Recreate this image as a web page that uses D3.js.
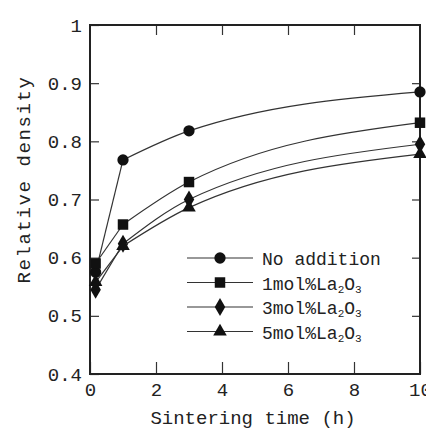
<!DOCTYPE html>
<html>
<head>
<meta charset="utf-8">
<script src="https://cdn.jsdelivr.net/npm/d3@7"></script>
<style>
  body { margin: 0; background: #fff; }
  text { font-family: "Liberation Mono", "DejaVu Sans Mono", monospace; fill: #222; }
</style>
</head>
<body>
<div id="chart"></div>
<script>
// Sintering time (h)
var times = [0.17, 1, 3, 10];
// relative density for each series
var noAddition = [0.575, 0.768, 0.818, 0.885];
var la1 = [0.59, 0.657, 0.73, 0.832];
var la3 = [0.545, 0.624, 0.70, 0.795];
var la5 = [0.558, 0.62, 0.686, 0.778];
var seriesNames = ["No addition", "1mol%La2O3", "3mol%La2O3", "5mol%La2O3"];
var markerTypes = ["circle", "square", "diamond", "triangle"];
var xTicks = [0, 2, 4, 6, 8, 10];
var yTicks = [0.4, 0.5, 0.6, 0.7, 0.8, 0.9, 1];

var margin = {top: 25, right: 6, bottom: 58, left: 90},
    width = 426 - margin.left - margin.right,
    height = 432 - margin.top - margin.bottom;

var svg = d3.select("#chart").append("svg")
    .attr("width", 426)
    .attr("height", 432)
  .append("g")
    .attr("transform", "translate(" + margin.left + "," + margin.top + ")");

var x = d3.scaleLinear().domain([0, 10]).range([0, width]);
var y = d3.scaleLinear().domain([0.4, 1]).range([height, 0]);

// axes, ticks pointing inward
svg.append("g")
    .attr("transform", "translate(0," + height + ")")
    .call(d3.axisBottom(x).tickValues(xTicks).tickSizeInner(-12).tickSizeOuter(0).tickPadding(9))
    .call(function(g) { g.select(".domain").remove(); })
    .selectAll("text").style("font-size", "19px");

svg.append("g")
    .call(d3.axisLeft(y).tickValues(yTicks).tickSizeInner(-9).tickSizeOuter(0).tickPadding(8)
        .tickFormat(function(d) { return d === 1 ? "1" : d3.format(".1f")(d); }))
    .call(function(g) { g.select(".domain").remove(); })
    .selectAll("text").style("font-size", "19px");

svg.append("g")
    .call(d3.axisTop(x).tickValues(xTicks.slice(1, -1)).tickSizeInner(-10).tickSizeOuter(0).tickFormat(""))
    .call(function(g) { g.select(".domain").remove(); });

svg.append("g")
    .attr("transform", "translate(" + width + ",0)")
    .call(d3.axisRight(y).tickValues(yTicks.slice(1, -1)).tickSizeInner(-8).tickSizeOuter(0).tickFormat(""))
    .call(function(g) { g.select(".domain").remove(); });

svg.selectAll(".tick line").attr("stroke", "#333").attr("stroke-width", 1.2);

// frame
svg.append("rect")
    .attr("width", width)
    .attr("height", height)
    .attr("fill", "none")
    .attr("stroke", "#222")
    .attr("stroke-width", 2);

// axis titles
svg.append("text")
    .attr("x", width / 2 - 2)
    .attr("y", height + 50)
    .attr("text-anchor", "middle")
    .style("font-size", "19px")
    .text("Sintering time (h)");

svg.append("text")
    .attr("transform", "translate(-60," + (height / 2 - 20) + ") rotate(-90)")
    .attr("text-anchor", "middle")
    .style("font-size", "19px")
    .style("letter-spacing", "1.6px")
    .text("Relative density");

// marker drawing
function marker(sel, type) {
    var sym = {
        circle: d3.symbolCircle,
        square: d3.symbolSquare,
        diamond: d3.symbolDiamond,
        triangle: d3.symbolTriangle
    }[type];
    var size = {circle: 100, square: 110, diamond: 95, triangle: 80}[type];
    sel.append("path")
        .attr("d", d3.symbol().type(sym).size(size))
        .attr("fill", "#111");
}

var data = [noAddition, la1, la3, la5];
// straight segment from the first point, smooth fitted curve after 1 h
var straight = d3.line()
    .x(function(d) { return x(d.t); })
    .y(function(d) { return y(d.v); });
var smooth = d3.line()
    .x(function(d) { return x(d.t); })
    .y(function(d) { return y(d.v); })
    .curve(d3.curveMonotoneX);

data.forEach(function(vals, k) {
    var pts = vals.map(function(v, i) { return {t: times[i], v: v}; });
    svg.append("path")
        .attr("d", straight(pts.slice(0, 2)))
        .attr("fill", "none")
        .attr("stroke", "#333")
        .attr("stroke-width", 1.2);
    svg.append("path")
        .attr("d", smooth(pts.slice(1)))
        .attr("fill", "none")
        .attr("stroke", "#333")
        .attr("stroke-width", 1.2);
    pts.forEach(function(p) {
        var g = svg.append("g")
            .attr("transform", "translate(" + x(p.t) + "," + y(p.v) + ")");
        marker(g, markerTypes[k]);
    });
});

// legend
var legend = svg.selectAll(".legend")
    .data(seriesNames)
    .enter().append("g")
    .attr("class", "legend")
    .attr("transform", function(d, i) { return "translate(97," + (233 + i * 24.5) + ")"; });

legend.append("line")
    .attr("x1", 0).attr("x2", 66)
    .attr("stroke", "#333").attr("stroke-width", 1.2);

legend.each(function(d, i) {
    var g = d3.select(this).append("g").attr("transform", "translate(33,0)");
    marker(g, markerTypes[i]);
});

legend.append("text")
    .attr("x", 75)
    .attr("y", 7)
    .style("font-size", "18px")
    .each(function(d) {
        var t = d3.select(this);
        if (d.indexOf("La2O3") < 0) { t.text(d); return; }
        var pre = d.replace("La2O3", "");
        t.append("tspan").text(pre + "La");
        t.append("tspan").attr("dy", 3).style("font-size", "11px").text("2");
        t.append("tspan").attr("dy", -3).text("O");
        t.append("tspan").attr("dy", 3).style("font-size", "11px").text("3");
    });
</script>
</body>
</html>
